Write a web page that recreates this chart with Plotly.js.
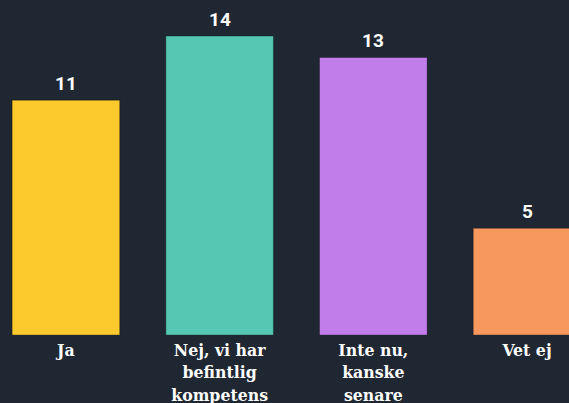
<!DOCTYPE html>
<html>
<head>
<meta charset="utf-8">
<script src="https://cdn.plot.ly/plotly-3.0.1.min.js"></script>
<style>html,body{margin:0;padding:0;background:#1f2732;}#chart{width:569px;height:403px;}</style>
</head>
<body>
<div id="chart"></div>
<script>
var categories = ["Ja", "Nej, vi har<br>befintlig<br>kompetens", "Inte nu,<br>kanske<br>senare", "Vet ej"];
var values = [11, 14, 13, 5];
var colors = ["#fdca2e", "#55c7b3", "#c17eea", "#f7985f"];

var trace = {
  type: "bar",
  x: categories,
  y: values,
  width: 0.7,
  marker: {color: colors, line: {color: "rgba(0,0,0,0.3)", width: 1}},
  hoverinfo: "none"
};

var annotations = categories.map(function (c, i) {
  return {
    x: c, y: values[i], xref: "x", yref: "y",
    text: String(values[i]), showarrow: false,
    yanchor: "bottom", yshift: 3,
    font: {family: "Roboto, sans-serif", size: 19, color: "#ffffff", weight: 700}
  };
});

var layout = {
  width: 569,
  height: 403,
  margin: {l: 0, r: 0, t: 0, b: 68, pad: 0},
  paper_bgcolor: "#1f2732",
  plot_bgcolor: "#1f2732",
  showlegend: false,
  bargap: 0.3,
  annotations: annotations,
  xaxis: {
    type: "category",
    range: [-0.429, 3.273],
    showgrid: false, zeroline: false, showline: false, ticks: "",
    tickfont: {family: "DejaVu Serif Condensed, DejaVu Serif, serif", size: 17.5, color: "#ffffff", weight: 700},
    ticklabelstandoff: 2
  },
  yaxis: {
    range: [0, 15.69],
    visible: false, showgrid: false, zeroline: false
  }
};

Plotly.newPlot("chart", [trace], layout, {displayModeBar: false, staticPlot: true});
</script>
</body>
</html>
